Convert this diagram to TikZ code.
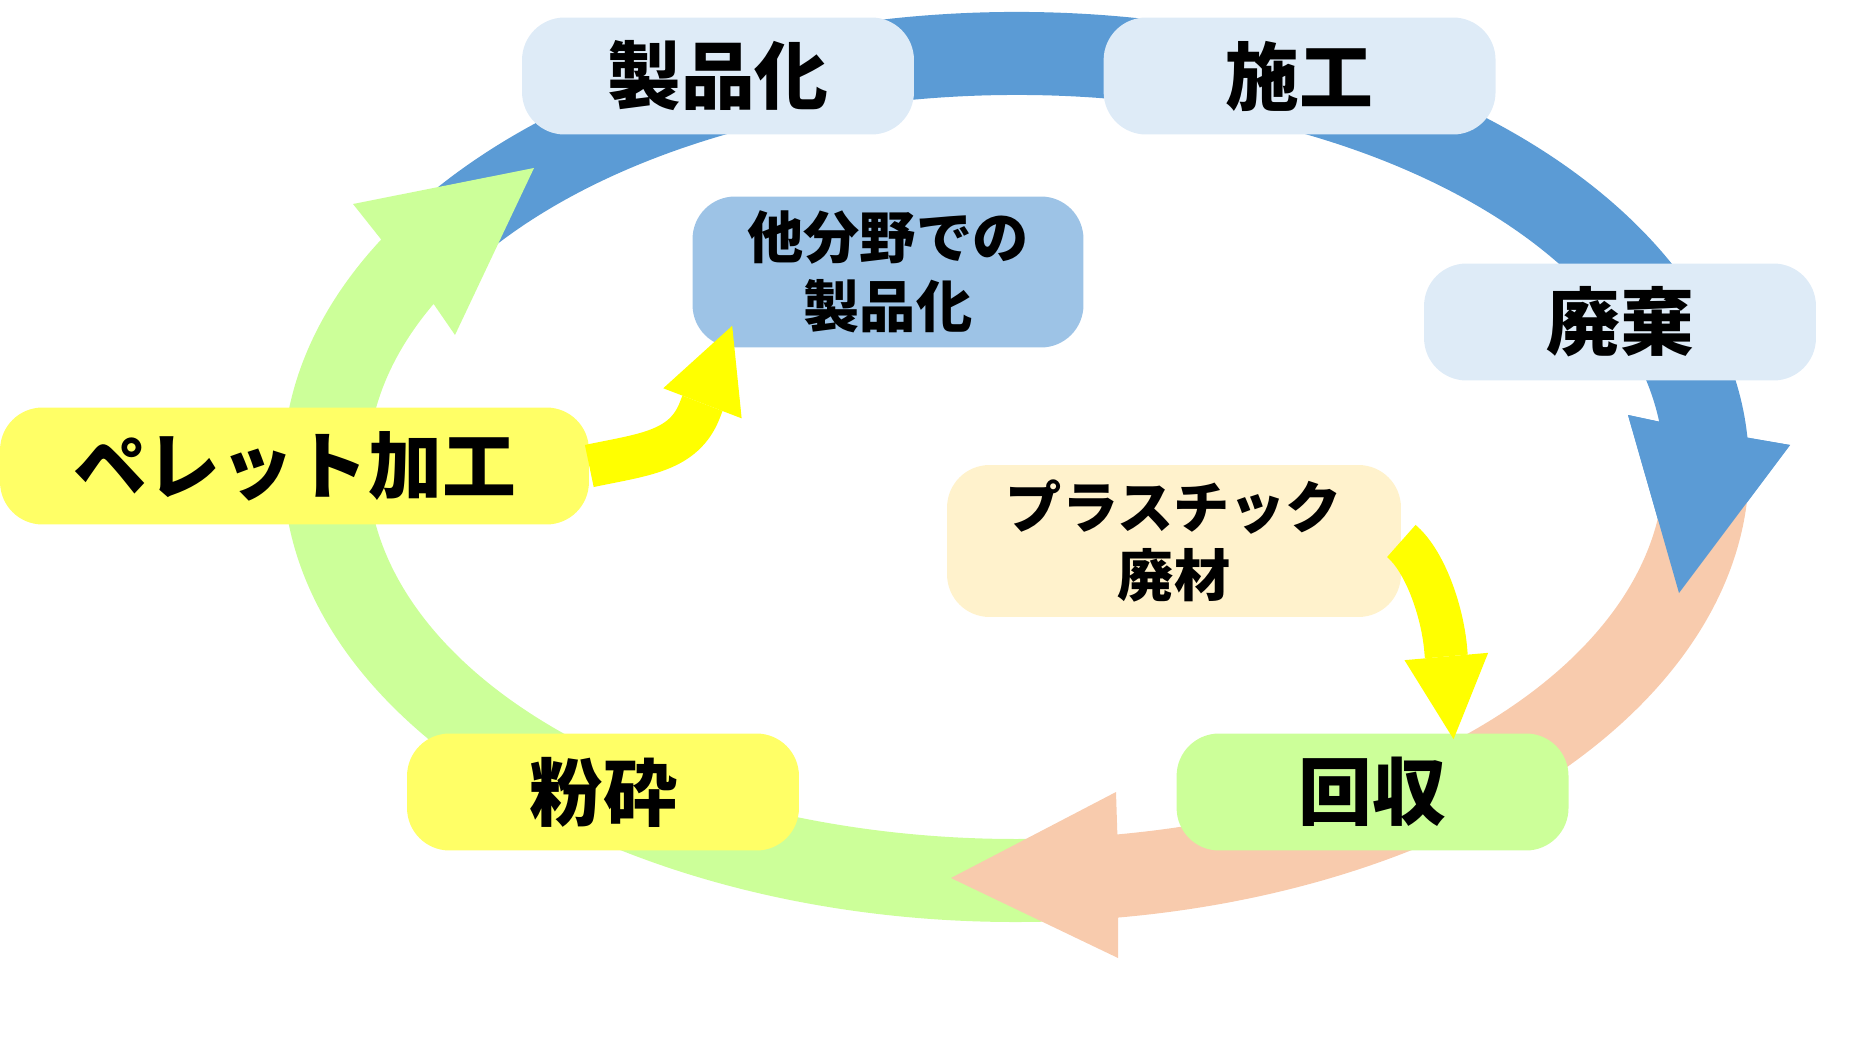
\documentclass[tikz,border=0pt]{standalone}
\usepackage{fontspec}
\usepackage{tikz}
\usetikzlibrary{shapes,arrows.meta,positioning}
\newfontfamily\jp{Noto Sans CJK JP}
\definecolor{azul}{HTML}{5B9BD5}
\definecolor{naranja}{HTML}{F8CBAD}
\definecolor{verde}{HTML}{CCFF99}
\definecolor{celeste}{HTML}{DEEBF7}
\definecolor{azulmedio}{HTML}{9DC3E6}
\definecolor{limon}{HTML}{FFFF66}
\definecolor{crema}{HTML}{FFF2CC}
\definecolor{amarillo}{HTML}{FFFF00}
\tikzstyle{etapa} = [rectangle, rounded corners=0.85cm, inner sep=0pt, minimum width=7.84cm, minimum height=2.34cm, font=\jp\bfseries\fontsize{42}{50}\selectfont]
\tikzstyle{etapadoble} = [etapa, minimum height=3.02cm, align=center, font=\jp\bfseries\fontsize{32}{39}\selectfont]
\tikzstyle{flechaamarilla} = [draw=amarillo, line width=0.86cm, -{Triangle[width=1.68cm,length=1.66cm,line width=0pt]}]

\begin{document}
\begin{tikzpicture}[x=0.02cm, y=0.02cm]
	\useasboundingbox (0,0) rectangle (1852,1046);
	\coordinate (centro) at (1016,579);
	\fill[azul] ([shift={(148:733 and 455)}]centro) arc[start angle=148, end angle=3.7, x radius=733, y radius=455] -- (1790,601) -- (1679,453) -- (1628,631) -- ([shift={(7:648 and 372)}]centro) arc[start angle=7, end angle=148, x radius=648, y radius=372] -- cycle;
	\fill[verde] ([shift={(-87:733 and 455)}]centro) arc[start angle=-87, end angle=-210, x radius=733, y radius=455] -- (353,842) -- (534,878) -- (455,711) -- ([shift={(-206:648 and 372)}]centro) arc[start angle=-206, end angle=-87, x radius=648, y radius=372] -- cycle;
	\fill[naranja] ([shift={(2:733 and 455)}]centro) arc[start angle=2, end angle=-82, x radius=733, y radius=455] -- (1118,88) -- (951,168) -- (1116,254) -- ([shift={(-81:648 and 372)}]centro) arc[start angle=-81, end angle=2, x radius=648, y radius=372] -- cycle;
	\fill[azul] ([shift={(3.7:733 and 455)}]centro) -- (1790,601) -- (1679,453) -- (1628,631) -- ([shift={(7:648 and 372)}]centro) -- cycle;

	\node[etapa, fill=celeste] (producto) at (718,970) {製品化};
	\node[etapa, fill=celeste, right=3.78cm of producto] (obra) {施工};
	\node[etapa, fill=celeste] (desecho) at (1620,724) {廃棄};
	\node[etapadoble, fill=azulmedio, minimum width=7.82cm] (otros) at (888,774) {他分野での\\製品化};
	\node[etapa, fill=limon, minimum width=11.78cm] (pellet) at (294.5,580) {ペレット加工};
	\node[etapadoble, fill=crema, minimum width=9.08cm, minimum height=3.04cm] (residuo) at (1174,505) {プラスチック\\廃材};
	\node[etapa, fill=limon] (triturado) at (603,254) {粉砕};
	\node[etapa, fill=verde, right=7.54cm of triturado] (recogida) {回収};

	\coordinate (puntaA) at ([shift={(40,22)}]otros.south west);
	\coordinate (puntaB) at ([shift={(81,-6)}]recogida.north);
	\draw[flechaamarilla] (pellet.east) .. controls +(12:55) and +(249:45) .. ([shift={(249:90)}]puntaA) -- (puntaA);
	\draw[flechaamarilla] (residuo.east) .. controls +(-40:30) and +(95:40) .. ([shift={(95:90)}]puntaB) -- (puntaB);
\end{tikzpicture}
\end{document}
